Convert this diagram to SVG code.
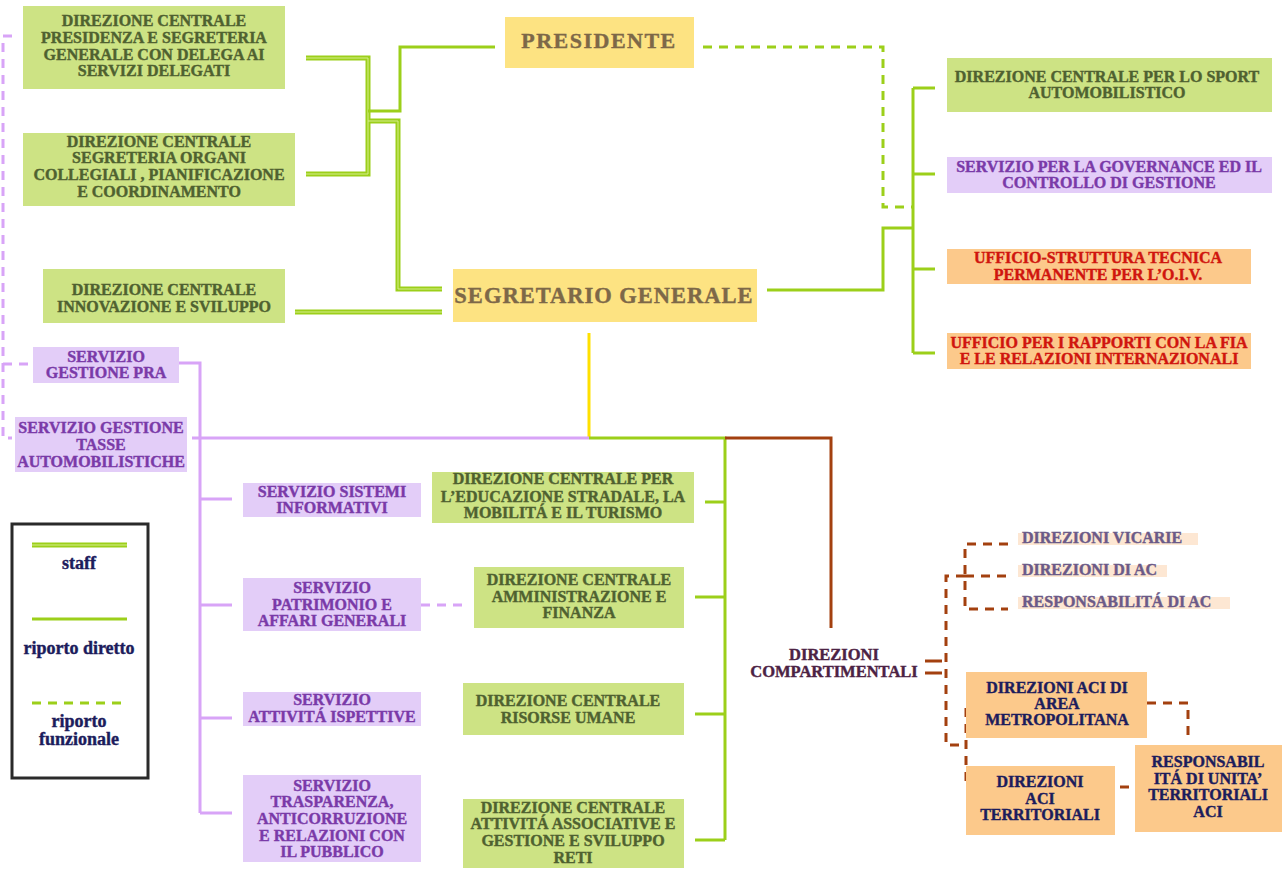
<svg xmlns="http://www.w3.org/2000/svg" width="1282" height="870" viewBox="0 0 1282 870">
<style>
text{font-family:"Liberation Serif","DejaVu Serif",serif;font-weight:bold;text-anchor:middle;font-size:16px;stroke-width:0.4px}
.g{fill:#cde384}.p{fill:#e3cdf8}.o{fill:#fcc98b}.y{fill:#fde382}.pc{fill:#fde7d3}
.tg{fill:#4f6130;stroke:#4f6130}.tp{fill:#7a3aa8;stroke:#7a3aa8}.tr{fill:#d0150e;stroke:#d0150e}.ty{fill:#7d6848;stroke:#7d6848}.tn{fill:#1c1c5c;stroke:#1c1c5c}.tv{fill:#6b5a88;stroke:#6b5a88}.tm{fill:#4c2244;stroke:#4c2244}
.staff{fill:none;stroke:#9ccf1a;stroke-width:5}
.staffin{fill:none;stroke:#d6ee8c;stroke-width:1}
.dir{fill:none;stroke:#9ccf1a;stroke-width:3}
.fun{fill:none;stroke:#9ccf1a;stroke-width:3;stroke-dasharray:9,7}
.pur{fill:none;stroke:#d8a4f7;stroke-width:3}
.purd{fill:none;stroke:#d8a4f7;stroke-width:3;stroke-dasharray:9,7}
.bro{fill:none;stroke:#a3400f;stroke-width:3}
.brod{fill:none;stroke:#a3400f;stroke-width:3;stroke-dasharray:9,7}
.yel{fill:none;stroke:#ffe000;stroke-width:3}
.lg{font-size:18px}
</style>
<rect width="1282" height="870" fill="#ffffff"/>
<g id="connectors">
<path class="staff" d="M306,58 H368 V174 H306 M368,121 H398 V289 H442 M295,312 H442"/>
<path class="staffin" d="M306,58 H368 V174 H306 M368,121 H398 V289 H442 M295,312 H442"/>
<path class="dir" d="M368,111 H400 V47 H495"/>
<path class="fun" d="M703,47 H883 V207 H913"/>
<path class="dir" d="M767,290 H883 V228 H913"/>
<path class="dir" d="M913,88 V353 M913,88 H935 M913,174 H935 M913,269 H935 M913,353 H935"/>
<path class="yel" d="M589,333 V438"/>
<path class="pur" d="M589,438 H192 M179,363 H200 V813 M200,499 H232 M200,605 H232 M200,718 H232 M200,813 H232"/>
<path class="purd" d="M421,605 H463 M12,36 H3 V438 H12 M3,364 H33"/>
<path class="dir" d="M589,438 H725 V840 M705,502 H725 M695,597 H725 M695,714 H725 M695,840 H725"/>
<path class="bro" d="M725,438 H831 V628"/>
<path class="bro" d="M925,661 H942 M925,673 H942"/>
<path class="brod" d="M965,576 H946 V745 H965 M1008,544 H965 V609 H1008 M965,576 H1008 M977,703 H966 V787 H977 M1147,703 H1188 V736 M1104,787 H1135"/>
</g>
<g id="dc-presidenza"><rect class="g" x="23" y="6" width="262" height="83"/>
<text class="tg"><tspan x="154" y="26">DIREZIONE CENTRALE</tspan><tspan x="154" y="43">PRESIDENZA E SEGRETERIA</tspan><tspan x="154" y="60">GENERALE CON DELEGA AI</tspan><tspan x="154" y="76">SERVIZI DELEGATI</tspan></text></g>
<g id="dc-segreteria-organi"><rect class="g" x="23" y="133" width="272" height="73"/>
<text class="tg"><tspan x="159" y="147">DIREZIONE CENTRALE</tspan><tspan x="159" y="163">SEGRETERIA ORGANI</tspan><tspan x="159" y="180">COLLEGIALI , PIANIFICAZIONE</tspan><tspan x="159" y="197">E COORDINAMENTO</tspan></text></g>
<g id="dc-innovazione"><rect class="g" x="43" y="269" width="242" height="54"/>
<text class="tg"><tspan x="164" y="295">DIREZIONE CENTRALE</tspan><tspan x="164" y="312">INNOVAZIONE E SVILUPPO</tspan></text></g>
<g id="presidente"><rect class="y" x="505" y="17" width="189" height="51"/>
<text class="ty" x="599" y="48" style="font-size:22px;letter-spacing:1.5px">PRESIDENTE</text></g>
<g id="segretario-generale"><rect class="y" x="453" y="269" width="304" height="53"/>
<text class="ty" x="604" y="303" style="font-size:22.5px;letter-spacing:1px">SEGRETARIO GENERALE</text></g>
<g id="dc-sport"><rect class="g" x="947" y="58" width="325" height="54"/>
<text class="tg"><tspan x="1107" y="82">DIREZIONE CENTRALE PER LO SPORT</tspan><tspan x="1107" y="98">AUTOMOBILISTICO</tspan></text></g>
<g id="servizio-governance"><rect class="p" x="947" y="157" width="325" height="36"/>
<text class="tp"><tspan x="1109" y="172">SERVIZIO PER LA GOVERNANCE ED IL</tspan><tspan x="1109" y="188">CONTROLLO DI GESTIONE</tspan></text></g>
<g id="ufficio-oiv"><rect class="o" x="947" y="249" width="304" height="35"/>
<text class="tr"><tspan x="1098" y="263">UFFICIO-STRUTTURA TECNICA</tspan><tspan x="1098" y="280">PERMANENTE PER L’O.I.V.</tspan></text></g>
<g id="ufficio-fia"><rect class="o" x="947" y="333" width="304" height="36"/>
<text class="tr"><tspan x="1099" y="348">UFFICIO PER I RAPPORTI CON LA FIA</tspan><tspan x="1099" y="364">E LE RELAZIONI INTERNAZIONALI</tspan></text></g>
<g id="servizio-pra"><rect class="p" x="33" y="347" width="146" height="36"/>
<text class="tp"><tspan x="106" y="362">SERVIZIO</tspan><tspan x="106" y="378">GESTIONE PRA</tspan></text></g>
<g id="servizio-tasse"><rect class="p" x="15" y="417" width="172" height="55"/>
<text class="tp"><tspan x="101" y="433">SERVIZIO GESTIONE</tspan><tspan x="101" y="450">TASSE</tspan><tspan x="101" y="467">AUTOMOBILISTICHE</tspan></text></g>
<g id="servizio-sistemi"><rect class="p" x="243" y="483" width="178" height="34"/>
<text class="tp"><tspan x="332" y="497">SERVIZIO SISTEMI</tspan><tspan x="332" y="513">INFORMATIVI</tspan></text></g>
<g id="servizio-patrimonio"><rect class="p" x="243" y="578" width="178" height="53"/>
<text class="tp"><tspan x="332" y="593">SERVIZIO</tspan><tspan x="332" y="610">PATRIMONIO E</tspan><tspan x="332" y="626">AFFARI GENERALI</tspan></text></g>
<g id="servizio-ispettive"><rect class="p" x="243" y="692" width="178" height="34"/>
<text class="tp"><tspan x="332" y="705">SERVIZIO</tspan><tspan x="332" y="722">ATTIVITÁ ISPETTIVE</tspan></text></g>
<g id="servizio-trasparenza"><rect class="p" x="243" y="775" width="178" height="87"/>
<text class="tp"><tspan x="332" y="791">SERVIZIO</tspan><tspan x="332" y="807">TRASPARENZA,</tspan><tspan x="332" y="824">ANTICORRUZIONE</tspan><tspan x="332" y="841">E RELAZIONI CON</tspan><tspan x="332" y="857">IL PUBBLICO</tspan></text></g>
<g id="dc-educazione"><rect class="g" x="432" y="472" width="262" height="51"/>
<text class="tg"><tspan x="563" y="484">DIREZIONE CENTRALE PER</tspan><tspan x="563" y="502">L’EDUCAZIONE STRADALE, LA</tspan><tspan x="563" y="518">MOBILITÁ E IL TURISMO</tspan></text></g>
<g id="dc-amministrazione"><rect class="g" x="474" y="567" width="210" height="61"/>
<text class="tg"><tspan x="579" y="585">DIREZIONE CENTRALE</tspan><tspan x="579" y="602">AMMINISTRAZIONE E</tspan><tspan x="579" y="618">FINANZA</tspan></text></g>
<g id="dc-risorse-umane"><rect class="g" x="463" y="683" width="221" height="52"/>
<text class="tg"><tspan x="568" y="706">DIREZIONE CENTRALE</tspan><tspan x="568" y="723">RISORSE UMANE</tspan></text></g>
<g id="dc-attivita-associative"><rect class="g" x="463" y="799" width="221" height="69"/>
<text class="tg"><tspan x="573" y="813">DIREZIONE CENTRALE</tspan><tspan x="573" y="829">ATTIVITÁ ASSOCIATIVE E</tspan><tspan x="573" y="846">GESTIONE E SVILUPPO</tspan><tspan x="573" y="863">RETI</tspan></text></g>
<g id="direzioni-compartimentali">
<text class="tm" style="font-size:16.5px"><tspan x="834" y="660">DIREZIONI</tspan><tspan x="834" y="677">COMPARTIMENTALI</tspan></text></g>
<g id="direzioni-vicarie"><rect class="pc" x="1018" y="533" width="180" height="12"/>
<text class="tv" x="1022" y="543" style="text-anchor:start">DIREZIONI VICARIE</text></g>
<g id="direzioni-ac"><rect class="pc" x="1018" y="565" width="149" height="12"/>
<text class="tv" x="1022" y="575" style="text-anchor:start">DIREZIONI DI AC</text></g>
<g id="responsabilita-ac"><rect class="pc" x="1018" y="597" width="212" height="12"/>
<text class="tv" x="1022" y="607" style="text-anchor:start">RESPONSABILITÁ DI AC</text></g>
<g id="direzioni-aci-metropolitana"><rect class="o" x="966" y="672" width="181" height="66"/>
<text class="tn"><tspan x="1057" y="693">DIREZIONI ACI DI</tspan><tspan x="1057" y="709">AREA</tspan><tspan x="1057" y="725">METROPOLITANA</tspan></text></g>
<g id="direzioni-aci-territoriali"><rect class="o" x="966" y="766" width="149" height="69"/>
<text class="tn"><tspan x="1040" y="787">DIREZIONI</tspan><tspan x="1040" y="804">ACI</tspan><tspan x="1040" y="820">TERRITORIALI</tspan></text></g>
<g id="responsabilita-unita"><rect class="o" x="1135" y="745" width="147" height="87"/>
<text class="tn"><tspan x="1208" y="767">RESPONSABIL</tspan><tspan x="1208" y="784">ITÁ DI UNITA’</tspan><tspan x="1208" y="800">TERRITORIALI</tspan><tspan x="1208" y="817">ACI</tspan></text></g>
<g id="legend">
<rect x="12" y="524" width="136" height="254" fill="#ffffff" stroke="#2a2a2a" stroke-width="3"/>
<path class="staff" d="M32,545 H127"/><path class="staffin" d="M32,545 H127"/>
<text class="tn lg" x="79" y="569">staff</text>
<path class="dir" d="M32,619 H127"/>
<text class="tn lg" x="79" y="654">riporto diretto</text>
<path class="fun" d="M32,703 H122"/>
<text class="tn lg"><tspan x="79" y="727">riporto</tspan><tspan x="79" y="745">funzionale</tspan></text>
</g>
</svg>
